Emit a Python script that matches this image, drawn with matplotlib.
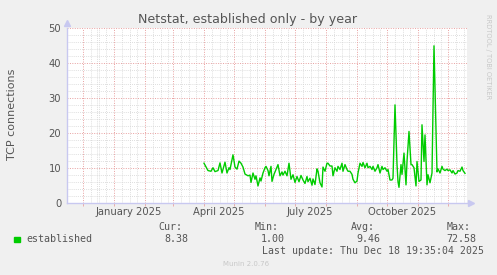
import matplotlib
matplotlib.use("Agg")
import matplotlib.pyplot as plt
import pandas as pd

# day 0 = 1 Jan 2025
dias = [90, 94, 97, 99, 101, 104, 106, 108, 111, 113, 115, 116, 119, 121, 123, 125, 127,
        129, 131, 134, 136, 137, 139, 141, 142, 144, 146, 147, 149, 151, 152, 154, 155,
        157, 158, 160, 162, 164, 166, 168, 169, 171, 173, 175, 177, 179, 181, 183, 185,
        187, 189, 191, 193, 194, 196, 198, 199, 201, 203, 204, 206, 208, 209, 211, 213,
        214, 216, 218, 219, 221, 223, 224, 226, 228, 229, 231, 233, 234, 236, 238, 239,
        241, 243, 244, 246, 248, 249, 251, 253, 254, 256, 258, 259, 261, 263, 264, 266,
        268, 269, 271, 273, 274, 276, 278, 279, 281, 283, 284, 285, 287, 288, 290, 292,
        293, 295, 297, 298, 300, 302, 303, 305, 307, 308, 310, 311, 313, 314, 316, 318,
        320, 323, 324, 326, 328, 329, 331, 333, 334, 336, 338, 339, 341, 343, 344, 346,
        348, 349, 351]
valores = [11.3, 9.2, 9.0, 10.0, 8.9, 9.2, 11.4, 8.5, 11.6, 8.5, 10.0, 9.5, 13.7, 10.2, 9.6,
           11.9, 11.3, 10.2, 8.2, 7.7, 7.9, 5.8, 8.5, 6.7, 7.7, 4.8, 7.1, 6.2, 8.5, 10.0,
           10.4, 9.2, 7.7, 10.4, 6.1, 8.1, 9.5, 10.9, 7.7, 8.8, 7.9, 9.0, 7.7, 11.3, 6.7,
           8.0, 5.8, 7.5, 6.0, 7.8, 6.5, 5.5, 7.5, 6.0, 7.0, 5.0, 6.8, 5.2, 9.7, 9.0, 5.7,
           4.5, 10.2, 9.0, 11.3, 11.3, 10.5, 10.5, 7.7, 10.0, 9.0, 10.4, 9.5, 11.3, 9.0,
           10.9, 9.5, 9.0, 9.0, 8.1, 6.7, 5.7, 6.2, 8.5, 11.3, 10.4, 11.5, 10.0, 11.3, 10.0,
           10.4, 9.5, 10.4, 9.0, 10.0, 10.9, 8.5, 10.4, 9.5, 10.0, 9.0, 9.5, 6.5, 6.5, 7.0,
           28.0, 11.0, 6.0, 4.4, 10.9, 8.1, 14.2, 5.1, 11.8, 20.4, 10.9, 10.9, 10.0, 4.8,
           11.8, 6.1, 6.5, 22.3, 11.8, 19.4, 5.1, 8.0, 5.7, 8.5, 44.9, 8.8, 9.7, 8.5, 10.4,
           9.6, 9.2, 9.6, 9.2, 9.4, 8.5, 9.2, 8.2, 8.5, 9.2, 9.0, 10.2, 9.2, 8.4]

etiquetas_x = ["January 2025", "April 2025", "July 2025", "October 2025"]
y_ticks = [0, 10, 20, 30, 40, 50]
leyenda = ["established", "8.38", "1.00", "9.46", "72.58"]

inicio = pd.Timestamp("2025-01-01")
meses = pd.date_range("2024-12-01", "2025-12-01", freq="MS")
dias_mes = [(m - inicio).days for m in meses]
semanas = [d + k for d in dias_mes for k in (8, 16, 23)] + [-48 + 23 + 8]
pos_etiquetas = [(pd.Timestamp(m) - inicio).days + 15
                 for m in ["2025-01-01", "2025-04-01", "2025-07-01", "2025-10-01"]]

W, H = 497, 275
gris = "#555555"
fig = plt.figure(figsize=(W / 100, H / 100), dpi=100, facecolor="#f0f0f0")
ax = fig.add_axes([66.7 / W, 1 - 202.7 / H, 400.3 / W, 174.7 / H])
ax.set_facecolor("white")
ax.set_xlim(-47.3, 353)
ax.set_ylim(0, 50)

# grid
for d in semanas:
    ax.axvline(d, color="#d4d4d4", lw=0.6, ls=(0, (1, 1.5)), zorder=1)
for y in range(2, 51, 2):
    if y % 10:
        ax.axhline(y, color="#d4d4d4", lw=0.6, ls=(0, (1, 1.5)), zorder=1)
for d in dias_mes:
    ax.axvline(d, color="#e8a0a0", lw=0.7, ls=(0, (1, 1.5)), zorder=1.5)
for y in y_ticks[1:]:
    ax.axhline(y, color="#e8a0a0", lw=0.7, ls=(0, (1, 1.5)), zorder=1.5)

ax.plot(dias, valores, color="#00cc00", lw=1.0, zorder=3)

for s in ["top", "right"]:
    ax.spines[s].set_visible(False)
for s in ["left", "bottom"]:
    ax.spines[s].set_color("#c8c8f0")
    ax.spines[s].set_linewidth(1.0)
ax.plot([0], [1.03], marker="^", color="#c8c8f0", ms=4, transform=ax.transAxes, clip_on=False)
ax.plot([1.01], [0], marker=">", color="#c8c8f0", ms=4, transform=ax.transAxes, clip_on=False)

ax.set_xticks(pos_etiquetas, etiquetas_x)
ax.set_xticks(dias_mes, minor=True)
ax.set_yticks(y_ticks)
ax.tick_params(axis="both", which="major", length=0, labelsize=7.2, labelcolor=gris, pad=4)
ax.tick_params(axis="x", which="minor", length=2, color="#e8a0a0", direction="out")
ax.tick_params(axis="x", which="major", pad=3)

fig.text(248 / W, 1 - 19 / H, "Netstat, established only - by year", ha="center", va="center",
         fontsize=9.1, color=gris)
fig.text(12 / W, 1 - 114 / H, "TCP connections", rotation=90, ha="center", va="center",
         fontsize=8, color=gris)
fig.text(488 / W, 1 - 57 / H, "RRDTOOL / TOBI OETIKER", rotation=270, ha="center", va="center",
         fontsize=4.8, color="#c8c8c8")

# legend
mono = "DejaVu Sans Mono"
fig.patches.append(plt.Rectangle((14 / W, 1 - 242 / H), 5.5 / W, 5.5 / H, color="#00cc00",
                                 transform=fig.transFigure))
fig.text(26 / W, 1 - 239 / H, leyenda[0], family=mono, fontsize=7.2, color=gris, va="center")
for x, t in [(158.5, "Cur:"), (254.7, "Min:"), (351, "Avg:"), (446.7, "Max:")]:
    fig.text(x / W, 1 - 227 / H, t, family=mono, fontsize=7.2, color=gris, va="center")
for x, t in zip([164.7, 261, 356.7, 446.7], leyenda[1:]):
    fig.text(x / W, 1 - 239 / H, t, family=mono, fontsize=7.2, color=gris, va="center")
fig.text(261.7 / W, 1 - 250.5 / H, "Last update: Thu Dec 18 19:35:04 2025", family=mono,
         fontsize=7.1, color=gris, va="center")
fig.text(223 / W, 1 - 264.5 / H, "Munin 2.0.76", fontsize=5, color="#c8c8c8", va="center")

fig.savefig("out.png", dpi=100, facecolor=fig.get_facecolor())
